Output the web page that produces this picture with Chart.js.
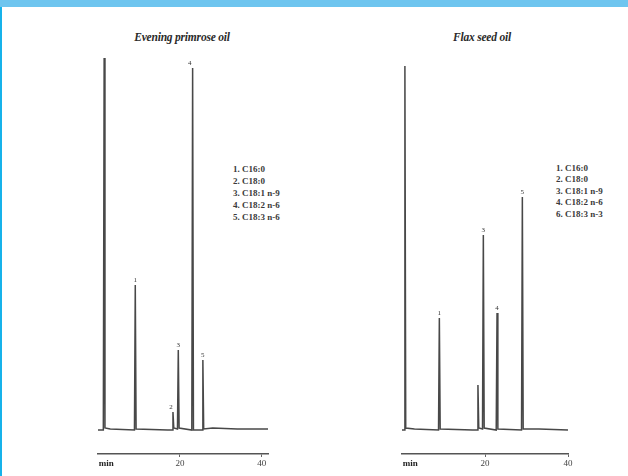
<!DOCTYPE html>
<html>
<head>
<meta charset="utf-8">
<script src="https://cdn.jsdelivr.net/npm/chart.js@4"></script>
<style>
  html, body { margin: 0; padding: 0; background: #fff; }
  body { width: 628px; height: 476px; position: relative; overflow: hidden; font-family: "Liberation Serif", "DejaVu Serif", serif; }
  #topbar { position: absolute; left: 0; top: 0; width: 628px; height: 7px; background: #6ec5ef; }
  #leftbar { position: absolute; left: 0; top: 7px; width: 2px; height: 469px; background: #16b2ea; }
  .box { position: absolute; top: 0; height: 476px; width: 200px; }
  .title { position: absolute; top: 31px; font-style: italic; font-weight: bold; font-size: 11.5px; color: #2a2a2a; transform: translateX(-50%); white-space: nowrap; letter-spacing: -0.2px; }
  .legend { position: absolute; font-size: 9px; font-weight: bold; color: #3a3a3a; line-height: 12px; white-space: nowrap; }
</style>
</head>
<body>
<div id="topbar"></div>
<div id="leftbar"></div>
<div class="title" style="left:182px">Evening primrose oil</div>
<div class="title" style="left:482px">Flax seed oil</div>
<div class="legend" id="legL" style="left:233px; top:163px"></div>
<div class="legend" id="legR" style="left:556px; top:163px; line-height:11.4px"></div>
<div class="box" style="left:88px"><canvas id="cL"></canvas></div>
<div class="box" style="left:392px"><canvas id="cR"></canvas></div>
<script>
// ---- Data (retention time in min, detector signal) ----
const leftTimes  = [0, 1.3, 1.5, 1.7, 3.0, 8.9, 9.1, 9.3, 17.0, 18.1, 18.3, 18.5, 19.4, 19.6, 19.8, 22.9, 23.1, 23.3, 25.4, 25.6, 25.8, 28.0, 34.0, 42.0];
const leftSignal = [0, 0, 372, 2, 1, 0, 145, 1, 0, 0, 18, 2, 1, 80, 2, 0, 362, 0, 0, 70, 1, 2, 1, 1];
const rightTimes  = [0, 0.5, 0.7, 0.9, 3.0, 8.8, 9.0, 9.2, 17.0, 18.1, 18.3, 18.5, 19.4, 19.6, 19.8, 22.7, 22.9, 23.1, 28.8, 29.0, 29.2, 33.0, 40.0];
const rightSignal = [0, 0, 364, 2, 1, 0, 112, 1, 0, 0, 45, 2, 1, 195, 2, 0, 117, 1, 0, 233, 1, 1, 0];

const leftPeakLabels  = ['1', '2', '3', '4', '5'];
const leftPeakTimes   = [9.1, 17.8, 19.6, 22.4, 25.6];
const leftPeakHeights = [145, 18, 80, 362, 70];
const rightPeakLabels  = ['1', '3', '4', '5'];
const rightPeakTimes   = [9.0, 19.6, 22.9, 29.0];
const rightPeakHeights = [112, 195, 117, 233];

const tickValues = [2, 20, 40];
const tickLabels = ['min', '20', '40'];

const leftLegend  = ['1.  C16:0', '2.  C18:0', '3.  C18:1 n-9', '4.  C18:2 n-6', '5.  C18:3 n-6'];
const rightLegend = ['1.  C16:0', '2.  C18:0', '3.  C18:1 n-9', '4.  C18:2 n-6', '6.  C18:3 n-3'];

document.getElementById('legL').innerHTML = leftLegend.join('<br>');
document.getElementById('legR').innerHTML = rightLegend.join('<br>');

const peakLabelPlugin = {
  id: 'peakLabels',
  afterDatasetsDraw(chart, args, opts) {
    const { ctx, scales: { x, y } } = chart;
    ctx.save();
    ctx.font = '7px "Liberation Serif", serif';
    ctx.fillStyle = '#333';
    ctx.textAlign = 'center';
    ctx.textBaseline = 'bottom';
    opts.labels.forEach((t, i) => {
      ctx.fillText(t, x.getPixelForValue(opts.times[i]), y.getPixelForValue(opts.heights[i]) - 1);
    });
    ctx.restore();
  }
};

function makeChart(id, times, signal, xMax, rightPad, labels, ltimes, lheights) {
  const pts = times.map((t, i) => ({ x: t, y: signal[i] }));
  return new Chart(document.getElementById(id), {
    type: 'line',
    data: { datasets: [{ data: pts, borderColor: '#484848', borderWidth: 1.5, pointRadius: 0, tension: 0, fill: false }] },
    options: {
      responsive: true, maintainAspectRatio: false, animation: false,
      layout: { padding: { left: 10, right: rightPad, top: 40, bottom: 0 } },
      plugins: {
        legend: { display: false }, tooltip: { enabled: false }, title: { display: false },
        peakLabels: { labels: labels, times: ltimes, heights: lheights }
      },
      scales: {
        x: {
          type: 'linear', min: 0, max: xMax,
          afterBuildTicks: (s) => { s.ticks = tickValues.map(v => ({ value: v })); },
          afterFit: (s) => { s.height = 22; },
          ticks: {
            autoSkip: false, maxRotation: 0, padding: 1,
            color: (c) => c.index === 0 ? '#222' : '#444',
            font: (c) => ({ family: '"Liberation Serif", serif', size: 9, weight: c.index === 0 ? 'bold' : 'normal' }),
            callback: (v, i) => tickLabels[i]
          },
          grid: { drawOnChartArea: false, drawTicks: true, tickLength: 3, color: (c) => c.index === 0 ? 'rgba(0,0,0,0)' : '#666' },
          border: { display: true, color: '#555', width: 1.5 }
        },
        y: { display: false, min: -24, max: 390 }
      }
    },
    plugins: [peakLabelPlugin]
  });
}

makeChart('cL', leftTimes, leftSignal, 41.5, 20, leftPeakLabels, leftPeakTimes, leftPeakHeights);
makeChart('cR', rightTimes, rightSignal, 40, 24, rightPeakLabels, rightPeakTimes, rightPeakHeights);
</script>
</body>
</html>
